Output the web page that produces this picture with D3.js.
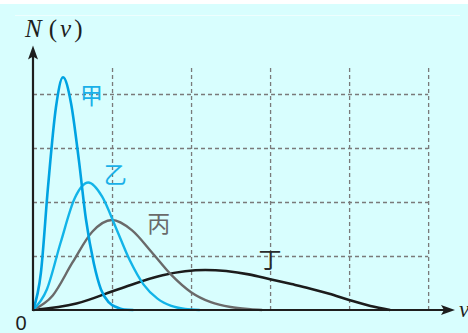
<!DOCTYPE html>
<html><head><meta charset="utf-8">
<script src="https://cdn.jsdelivr.net/npm/d3@7"></script>
<style>
html,body{margin:0;padding:0;background:#d8fefe;}
svg{display:block;}
</style></head>
<body>
<script>
// ---- data (v in grid units, N in grid units) ----
const curveNames = ["甲", "乙", "丙", "丁"];
const jiaV  = [0, 0.10, 0.19, 0.29, 0.38, 0.48, 0.58, 0.67, 0.77, 0.86, 0.96, 1.06, 1.15, 1.27];
const jiaN  = [0, 0.69, 2.28, 3.75, 4.31, 3.84, 2.78, 1.68, 0.86, 0.38, 0.14, 0.05, 0.01, 0];
const yiV   = [0, 0.175, 0.35, 0.525, 0.70, 0.875, 1.05, 1.225, 1.40, 1.575, 1.75, 1.925, 2.11];
const yiN   = [0, 0.38, 1.25, 2.06, 2.36, 2.10, 1.52, 0.92, 0.47, 0.21, 0.077, 0.02, 0];
const bingV = [0, 0.25, 0.5, 0.75, 1.0, 1.25, 1.5, 1.75, 2.0, 2.25, 2.5, 2.75, 2.9];
const bingN = [0, 0.27, 0.88, 1.45, 1.667, 1.48, 1.075, 0.65, 0.33, 0.145, 0.055, 0.015, 0];
const dingV = [0, 0.55, 1.09, 1.64, 2.18, 2.73, 3.0, 3.27, 3.5, 3.75, 4.0, 4.27, 4.52];
const dingN = [0, 0.12, 0.39, 0.645, 0.74, 0.66, 0.57, 0.48, 0.40, 0.30, 0.185, 0.074, 0];
const gridV = [1, 2, 3, 4, 5];
const gridN = [1, 2, 3, 4];
const axisLabels = {y: "N", x: "v", origin: "0"};

const W = 468, H = 333;
const svg = d3.select("body").append("svg").attr("width", W).attr("height", H);
svg.append("rect").attr("width", W).attr("height", H).attr("fill", "#d8fefe");
svg.append("rect").attr("width", W).attr("height", 4).attr("fill", "#ffffff");
svg.append("line").attr("x1", 15).attr("x2", 460).attr("y1", 15.5).attr("y2", 15.5)
  .attr("stroke", "#eefefe").attr("stroke-width", 1);

const x = d3.scaleLinear().domain([0, 5.34]).range([33, 455]);
const y = d3.scaleLinear().domain([0, 4.9]).range([310, 45.4]);
const gridTop = 67;

// grid via axes
const gx = svg.append("g").attr("transform", `translate(0,${y(0)})`)
  .call(d3.axisBottom(x).tickValues(gridV).tickSize(-(y(0) - gridTop)).tickFormat(""));
const gy = svg.append("g").attr("transform", `translate(${x(0)},0)`)
  .call(d3.axisLeft(y).tickValues(gridN).tickSize(-(x(5) - x(0))).tickFormat(""));
[gx, gy].forEach(g => {
  g.select(".domain").remove();
  g.selectAll(".tick line").attr("stroke", "#7a7a7a").attr("stroke-width", 1.3)
    .attr("stroke-dasharray", "4,3");
});

// curves
const series = [
  {name: curveNames[0], v: jiaV, n: jiaN, color: "#00a3e2", w: 2.6},
  {name: curveNames[1], v: yiV, n: yiN, color: "#12b4e8", w: 2.4},
  {name: curveNames[2], v: bingV, n: bingN, color: "#6a6a6a", w: 2.4},
  {name: curveNames[3], v: dingV, n: dingN, color: "#1c1c1c", w: 2.6},
];
const line = d3.line().x(d => x(d[0])).y(d => y(d[1])).curve(d3.curveMonotoneX);
series.slice().reverse().forEach(s => {
  svg.append("path").datum(s.v.map((v, i) => [v, s.n[i]]))
    .attr("d", line).attr("fill", "none").attr("stroke", s.color)
    .attr("stroke-width", s.w).attr("stroke-linejoin", "round");
});

// axes
const axisColor = "#1e1e1e";
svg.append("line").attr("x1", x(0)).attr("x2", x(5.34) - 6).attr("y1", y(0)).attr("y2", y(0))
  .attr("stroke", axisColor).attr("stroke-width", 2);
svg.append("line").attr("x1", x(0)).attr("x2", x(0)).attr("y1", y(0) + 1).attr("y2", y(4.9) + 6)
  .attr("stroke", axisColor).attr("stroke-width", 2.2);
const xt = x(5.34), yt = y(4.9);
svg.append("path").attr("d", `M${xt},${y(0)} L${xt - 14},${y(0) - 5} L${xt - 11},${y(0)} L${xt - 14},${y(0) + 5} Z`)
  .attr("fill", axisColor);
svg.append("path").attr("d", `M${x(0)},${yt} L${x(0) - 5},${yt + 14} L${x(0)},${yt + 11} L${x(0) + 5},${yt + 14} Z`)
  .attr("fill", axisColor);

// axis labels
const yl = svg.append("text").attr("x", 25).attr("y", 37)
  .attr("font-family", "Liberation Serif, serif").attr("font-size", 25).attr("fill", "#1e1e1e");
yl.append("tspan").attr("font-style", "italic").text(axisLabels.y);
yl.append("tspan").attr("dx", 7).text("(");
yl.append("tspan").attr("font-style", "italic").attr("dx", 3).text(axisLabels.x);
yl.append("tspan").attr("dx", 3).text(")");
svg.append("text").attr("x", 459).attr("y", 317).attr("font-family", "Liberation Serif, serif")
  .attr("font-style", "italic").attr("font-size", 23).attr("fill", "#1e1e1e").text(axisLabels.x);
svg.append("text").attr("x", 21).attr("y", 330).attr("text-anchor", "middle")
  .attr("font-family", "Liberation Sans, sans-serif").attr("font-size", 20).attr("fill", "#1e1e1e")
  .text(axisLabels.origin);

// curve labels
const labelPos = [[0.74, 4.0], [1.04, 2.53], [1.59, 1.63], [3.0, 0.97]];
const labelColors = ["#1ab0e8", "#1ab0e8", "#6a6a6a", "#2a2a2a"];
curveNames.forEach((nm, i) => {
  svg.append("text").attr("x", x(labelPos[i][0])).attr("y", y(labelPos[i][1]))
    .attr("text-anchor", "middle").attr("dominant-baseline", "central")
    .attr("font-family", "Noto Sans CJK SC").attr("font-weight", 400)
    .attr("font-size", 23).attr("fill", labelColors[i]).text(nm);
});
</script>
</body></html>
